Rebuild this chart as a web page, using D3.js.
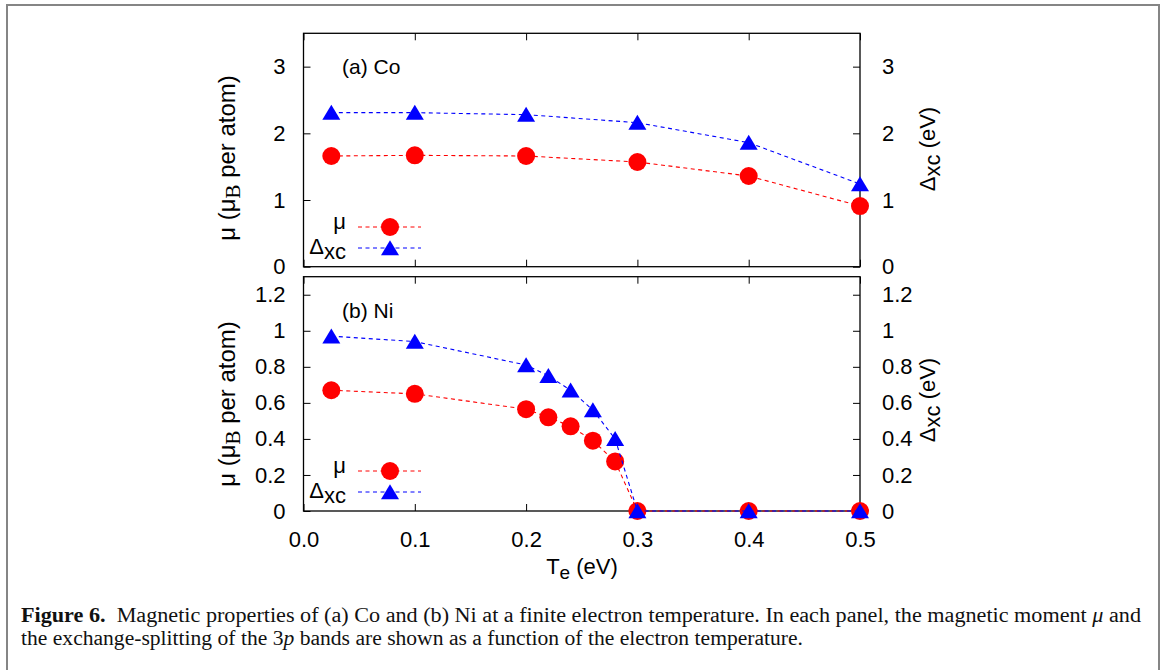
<!DOCTYPE html>
<html>
<head>
<meta charset="utf-8">
<script src="https://cdn.jsdelivr.net/npm/d3@7"></script>
<style>
  html, body { margin: 0; padding: 0; background: #fff; }
  svg { display: block; }
</style>
</head>
<body>
<svg id="chart" width="1165" height="670"></svg>
<script>
// ---- Data ----
const tempCo = [0.025, 0.1, 0.2, 0.3, 0.4, 0.5];
const muCo   = [1.66, 1.67, 1.66, 1.57, 1.36, 0.91];
const dxcCo  = [2.31, 2.31, 2.28, 2.16, 1.86, 1.24];

const tempNi = [0.025, 0.1, 0.2, 0.22, 0.24, 0.26, 0.28, 0.3, 0.4, 0.5];
const muNi   = [0.67, 0.65, 0.565, 0.52, 0.47, 0.39, 0.275, 0, 0, 0];
const dxcNi  = [0.97, 0.94, 0.81, 0.75, 0.67, 0.56, 0.40, 0, 0, 0];

const xTicks = [0, 0.1, 0.2, 0.3, 0.4, 0.5];
const xTickLabels = ["0.0", "0.1", "0.2", "0.3", "0.4", "0.5"];
const yTicksCo = [0, 1, 2, 3];
const yTickLabelsCo = ["0", "1", "2", "3"];
const yTicksNi = [0, 0.2, 0.4, 0.6, 0.8, 1.0, 1.2];
const yTickLabelsNi = ["0", "0.2", "0.4", "0.6", "0.8", "1", "1.2"];

const panelLabels = ["(a) Co", "(b) Ni"];

// ---- Layout ----
const svg = d3.select("#chart");
const sans = "'Liberation Sans', Arial, sans-serif";
const serif = "'Liberation Serif', 'Times New Roman', serif";
const RED = "#ff0000", BLUE = "#0000ff";
const FS = 22;

const x = d3.scaleLinear().domain([0, 0.5]).range([303.5, 860]);

const panels = [
  { temp: tempCo, mu: muCo, dxc: dxcCo, top: 33.3, bottom: 266.7, ymax: 3.5,
    ticks: yTicksCo, tickLabels: yTickLabelsCo, label: panelLabels[0], legY: 227,
    lyl: 158, ryl: 149 },
  { temp: tempNi, mu: muNi, dxc: dxcNi, top: 276.7, bottom: 511, ymax: 1.3,
    ticks: yTicksNi, tickLabels: yTickLabelsNi, label: panelLabels[1], legY: 471,
    lyl: 404, ryl: 400 }
];

// outer frame (gray, open at bottom)
svg.append("path")
  .attr("d", "M7,672 L7,5 L1159,5 L1159,672")
  .attr("fill", "none").attr("stroke", "#858585").attr("stroke-width", 2);

const trianglePath = "M0,-7.8 L9,7.2 L-9,7.2 Z";

panels.forEach((p, i) => {
  const y = d3.scaleLinear().domain([0, p.ymax]).range([p.bottom, p.top]);
  const g = svg.append("g");

  // axes with inward ticks on all four sides
  const tl = 7;
  const axL = d3.axisLeft(y).tickValues(p.ticks).tickSizeInner(-tl).tickSizeOuter(0).tickFormat((d, k) => p.tickLabels[k]).tickPadding(18);
  const axR = d3.axisRight(y).tickValues(p.ticks).tickSizeInner(-tl).tickSizeOuter(0).tickFormat((d, k) => p.tickLabels[k]).tickPadding(22);
  const axB = d3.axisBottom(x).tickValues(xTicks).tickSizeInner(-tl).tickSizeOuter(0).tickFormat(i === 1 ? ((d, k) => xTickLabels[k]) : "").tickPadding(20);
  const axT = d3.axisTop(x).tickValues(xTicks).tickSizeInner(-tl).tickSizeOuter(0).tickFormat("");

  [[axL, `translate(${x(0)},0)`], [axR, `translate(${x(0.5)},0)`],
   [axB, `translate(0,${p.bottom})`], [axT, `translate(0,${p.top})`]].forEach(([ax, tr]) => {
    const a = g.append("g").attr("transform", tr).call(ax);
    a.select(".domain").remove();
    a.selectAll("line").attr("stroke", "#000").attr("stroke-width", 1);
    a.selectAll("text").attr("font-family", sans).attr("font-size", FS).attr("fill", "#000");
  });

  // frame
  g.append("rect")
    .attr("x", x(0)).attr("y", p.top)
    .attr("width", x(0.5) - x(0)).attr("height", p.bottom - p.top)
    .attr("fill", "none").attr("stroke", "#000").attr("stroke-width", 1.3);

  // series
  const series = [
    { vals: p.mu, color: RED, shape: "circle" },
    { vals: p.dxc, color: BLUE, shape: "triangle" }
  ];
  const line = d3.line().x(d => x(d[0])).y(d => y(d[1]));
  series.forEach(s => {
    const pts = p.temp.map((t, k) => [t, s.vals[k]]);
    g.append("path").attr("d", line(pts))
      .attr("fill", "none").attr("stroke", s.color).attr("stroke-width", 1.1)
      .attr("stroke-dasharray", "4,3.5");
    pts.forEach(d => {
      if (s.shape === "circle") {
        g.append("circle").attr("cx", x(d[0])).attr("cy", y(d[1])).attr("r", 9).attr("fill", s.color);
      } else {
        g.append("path").attr("d", trianglePath)
          .attr("transform", `translate(${x(d[0])},${y(d[1])})`).attr("fill", s.color);
      }
    });
  });

  // panel label
  g.append("text").attr("x", 342).attr("y", p.top + 41)
    .attr("font-family", sans).attr("font-size", FS - 1).text(p.label);

  // legend
  const lx1 = 358, lx2 = 421, lxc = 390;
  const ly1 = p.legY, ly2 = p.legY + 21;
  g.append("line").attr("x1", lx1).attr("x2", lx2).attr("y1", ly1).attr("y2", ly1)
    .attr("stroke", RED).attr("stroke-width", 1).attr("stroke-dasharray", "4,3.5");
  g.append("circle").attr("cx", lxc).attr("cy", ly1).attr("r", 9).attr("fill", RED);
  g.append("line").attr("x1", lx1).attr("x2", lx2).attr("y1", ly2).attr("y2", ly2)
    .attr("stroke", BLUE).attr("stroke-width", 1).attr("stroke-dasharray", "4,3.5");
  g.append("path").attr("d", trianglePath).attr("transform", `translate(${lxc},${ly2})`).attr("fill", BLUE);

  g.append("text").attr("x", 346).attr("y", ly1 + 2).attr("text-anchor", "end")
    .attr("font-family", sans).attr("font-size", FS).text("μ");
  const t2 = g.append("text").attr("x", 346).attr("y", ly2 + 6).attr("text-anchor", "end")
    .attr("font-family", sans).attr("font-size", FS);
  t2.append("tspan").text("Δ");
  t2.append("tspan").attr("dy", 5).text("xc");

  // left y label
  const lt = g.append("text")
    .attr("transform", `translate(235,${p.lyl}) rotate(-90)`)
    .attr("text-anchor", "middle").attr("font-family", sans).attr("font-size", 24);
  lt.append("tspan").text("μ (μ");
  lt.append("tspan").attr("dy", 5).attr("font-family", serif).attr("font-size", 21).text("B");
  lt.append("tspan").attr("dy", -5).text(" per atom)");

  // right y label
  const rt = g.append("text")
    .attr("transform", `translate(935,${p.ryl}) rotate(-90)`)
    .attr("text-anchor", "middle").attr("font-family", sans).attr("font-size", FS);
  rt.append("tspan").text("Δ");
  rt.append("tspan").attr("dy", 5).text("xc");
  rt.append("tspan").attr("dy", -5).text(" (eV)");
});

// x label
const xl = svg.append("text").attr("x", 582).attr("y", 574)
  .attr("text-anchor", "middle").attr("font-family", sans).attr("font-size", FS);
xl.append("tspan").text("T");
xl.append("tspan").attr("dy", 5).attr("font-size", FS - 3).text("e");
xl.append("tspan").attr("dy", -5).text(" (eV)");

// caption
const c1 = svg.append("text").attr("x", 21).attr("y", 622)
  .attr("font-family", serif).attr("font-size", 20).attr("fill", "#111");
c1.append("tspan").attr("font-weight", "bold").text("Figure 6.");
c1.append("tspan").text("\u00a0\u00a0Magnetic properties of (a) Co and (b) Ni at a finite electron temperature. In each panel, the magnetic moment ");
c1.append("tspan").attr("font-style", "italic").text("μ");
c1.append("tspan").text(" and");
const c2 = svg.append("text").attr("x", 21).attr("y", 645)
  .attr("font-family", serif).attr("font-size", 20).attr("fill", "#111");
c2.append("tspan").text("the exchange-splitting of the 3");
c2.append("tspan").attr("font-style", "italic").text("p");
c2.append("tspan").text(" bands are shown as a function of the electron temperature.");

// fit caption lines to the reference widths
[[c1, 1120], [c2, 782]].forEach(([t, w]) => {
  const cur = t.node().getComputedTextLength();
  if (cur > 0) t.attr("textLength", w).attr("lengthAdjust", "spacingAndGlyphs");
});
</script>
</body>
</html>
